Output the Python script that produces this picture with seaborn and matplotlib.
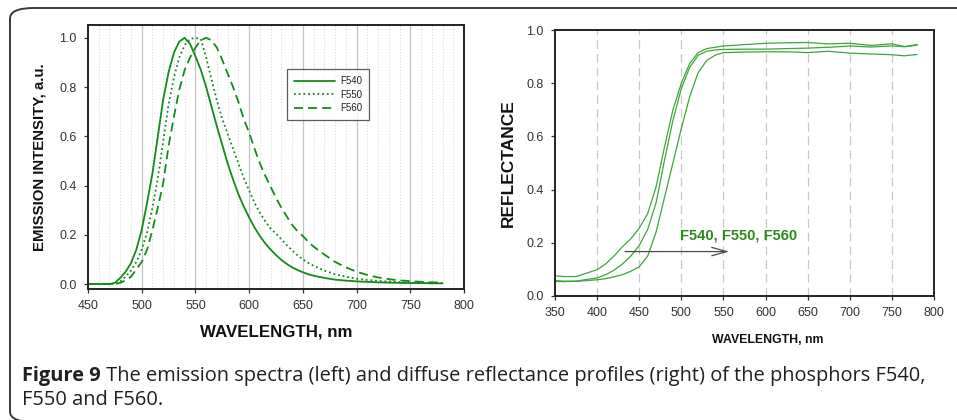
import matplotlib
matplotlib.use("Agg")
import matplotlib.pyplot as plt
from matplotlib.patches import FancyBboxPatch
import seaborn as sns
import pandas as pd

# ---------------- data ----------------
em_wl = [450, 470, 475, 480, 485, 490, 495, 500, 505, 510, 515, 520, 525, 530, 535,
         540, 545, 550, 555, 560, 565, 570, 575, 580, 585, 590, 595, 600, 605, 610,
         615, 620, 625, 630, 635, 640, 645, 650, 655, 660, 670, 680, 690, 700, 710,
         720, 730, 740, 750, 760, 770, 780]
f540 = [0, 0, 0.005, 0.025, 0.05, 0.085, 0.14, 0.22, 0.33, 0.45, 0.60, 0.75, 0.86, 0.94, 0.985,
        1.0, 0.975, 0.925, 0.87, 0.80, 0.72, 0.64, 0.565, 0.49, 0.425, 0.365, 0.315, 0.27, 0.23, 0.195,
        0.165, 0.14, 0.118, 0.098, 0.082, 0.068, 0.057, 0.048, 0.04, 0.034, 0.025, 0.018, 0.014, 0.011, 0.009,
        0.007, 0.006, 0.005, 0.004, 0.004, 0.003, 0.003]
f550 = [0, 0, 0, 0.01, 0.03, 0.055, 0.09, 0.14, 0.21, 0.31, 0.43, 0.58, 0.73, 0.84, 0.92,
        0.97, 0.995, 1.0, 0.995, 0.92, 0.83, 0.745, 0.67, 0.61, 0.55, 0.49, 0.43, 0.38, 0.33, 0.29,
        0.255, 0.225, 0.205, 0.182, 0.158, 0.137, 0.117, 0.1, 0.086, 0.074, 0.055, 0.04, 0.03, 0.022, 0.017,
        0.013, 0.01, 0.008, 0.006, 0.005, 0.004, 0.004]
f560 = [0, 0, 0, 0.005, 0.015, 0.03, 0.06, 0.09, 0.14, 0.22, 0.31, 0.41, 0.56, 0.68, 0.79,
        0.87, 0.92, 0.96, 0.99, 1.0, 0.99, 0.96, 0.91, 0.855, 0.8, 0.74, 0.67, 0.615, 0.55, 0.49,
        0.44, 0.395, 0.35, 0.31, 0.275, 0.24, 0.215, 0.195, 0.172, 0.152, 0.12, 0.09, 0.068, 0.05, 0.037,
        0.027, 0.02, 0.015, 0.012, 0.009, 0.007, 0.006]

rf_wl = [350, 360, 375, 400, 410, 420, 430, 440, 450, 460, 470, 480, 490, 500, 510,
         520, 530, 540, 550, 575, 600, 625, 650, 675, 700, 725, 750, 765, 780]
rf_a = [0.076, 0.073, 0.073, 0.099, 0.12, 0.15, 0.185, 0.215, 0.255, 0.31, 0.41, 0.56, 0.70, 0.80, 0.875,
        0.915, 0.93, 0.935, 0.94, 0.945, 0.95, 0.952, 0.953, 0.948, 0.95, 0.942, 0.948, 0.938, 0.945]
rf_b = [0.058, 0.056, 0.056, 0.068, 0.08, 0.097, 0.12, 0.15, 0.19, 0.25, 0.35, 0.51, 0.66, 0.78, 0.86,
        0.905, 0.92, 0.925, 0.927, 0.928, 0.928, 0.93, 0.932, 0.935, 0.94, 0.936, 0.94, 0.937, 0.943]
rf_c = [0.055, 0.054, 0.055, 0.061, 0.065, 0.072, 0.08, 0.093, 0.11, 0.15, 0.24, 0.37, 0.5, 0.63, 0.75,
        0.84, 0.885, 0.905, 0.915, 0.917, 0.918, 0.918, 0.915, 0.92, 0.913, 0.91, 0.907, 0.903, 0.908]

em_labels = ["F540", "F550", "F560"]
annot_text = "F540, F550, F560"
caption_bold = "Figure 9"
caption_rest = (" The emission spectra (left) and diffuse reflectance profiles (right) of the phosphors F540,")
caption_line2 = "F550 and F560."

# ---------------- style ----------------
sns.set_theme(style="white")
plt.rcParams["font.family"] = ["Liberation Sans", "DejaVu Sans"]

fig = plt.figure(figsize=(9.57, 4.20), dpi=100)

# rounded frame
frame = FancyBboxPatch((10 / 957, 1 - 422 / 420), 1.2, (422 - 8) / 420,
                       boxstyle="round,pad=0,rounding_size=0.025",
                       transform=fig.transFigure, fill=False,
                       edgecolor="#3a3a3a", linewidth=1.4, clip_on=False)
fig.patches.append(frame)

dark_green = "#16891c"
light_green = "#3ea53e"
tick_color = "#333333"

# ---------------- left panel ----------------
ax1 = fig.add_axes([88 / 957, 1 - 289 / 420, (464 - 88) / 957, (289 - 25) / 420])
df_em = pd.DataFrame({"wl": em_wl, "F540": f540, "F550": f550, "F560": f560})
styles = {"F540": "-", "F550": (0, (1, 1.6)), "F560": (0, (5, 2.8))}
for name in em_labels:
    sns.lineplot(data=df_em, x="wl", y=name, ax=ax1, color=dark_green,
                 linewidth=1.3, linestyle=styles[name], label=name, legend=False)
ax1.set_xlim(450, 800)
ax1.set_ylim(-0.02, 1.052)
ax1.set_xticks(range(450, 801, 50))
ax1.set_xticks(range(450, 801, 10), minor=True)
ax1.set_yticks([0, 0.2, 0.4, 0.6, 0.8, 1.0])
ax1.set_yticklabels(["0.0", "0.2", "0.4", "0.6", "0.8", "1.0"])
ax1.grid(False)
for x in range(460, 800, 10):
    if x % 50 == 0:
        ax1.axvline(x, color="#c4c4c4", linewidth=0.9, zorder=0)
    else:
        ax1.axvline(x, color="#d2d2d2", linewidth=0.7, linestyle=(0, (1, 2)), zorder=0)
leg = ax1.legend(loc="upper left", bbox_to_anchor=(0.529, 0.832), fontsize=7,
                 frameon=True, fancybox=False, handlelength=4.2, handletextpad=0.6,
                 borderpad=0.7, labelspacing=0.35, borderaxespad=0)
leg.get_frame().set_edgecolor("#333333")
leg.get_frame().set_linewidth(0.9)
for t in leg.get_texts():
    t.set_color("#222222")
ax1.set_xlabel("WAVELENGTH, nm", fontsize=12.2, fontweight="bold", color="#111111", va="center")
ax1.set_ylabel("EMISSION INTENSITY, a.u.", fontsize=10.8, fontweight="bold", color="#111111", va="center")
ax1.xaxis.set_label_coords(0.5, -0.163)
ax1.yaxis.set_label_coords(-0.128, 0.5)

# ---------------- right panel ----------------
ax2 = fig.add_axes([555 / 957, 1 - 296 / 420, (934 - 555) / 957, (296 - 30) / 420])
df_rf = pd.DataFrame({"wl": rf_wl, "a": rf_a, "b": rf_b, "c": rf_c})
for col in ["a", "b", "c"]:
    sns.lineplot(data=df_rf, x="wl", y=col, ax=ax2, color=light_green, linewidth=0.9, legend=False)
ax2.set_xlim(350, 800)
ax2.set_ylim(0, 1.0)
ax2.set_xticks(range(350, 801, 50))
ax2.set_yticks([0, 0.2, 0.4, 0.6, 0.8, 1.0])
ax2.set_yticklabels(["0.0", "0.2", "0.4", "0.6", "0.8", "1.0"])
ax2.grid(False)
for x in range(400, 800, 50):
    ax2.axvline(x, color="#c8c8c8", linewidth=0.9, linestyle=(0, (7, 4)), zorder=0)
ax2.annotate("", xy=(560, 0.167), xytext=(430, 0.167),
             arrowprops=dict(arrowstyle="->,head_length=0.9,head_width=0.25",
                             color="#4a4a4a", linewidth=0.9))
ax2.text(498, 0.228, annot_text, fontsize=10.5, fontweight="bold", color="#2d8a1e",
         va="center", ha="left")
ax2.set_xlabel("WAVELENGTH, nm", fontsize=8.8, fontweight="bold", color="#111111", va="center")
ax2.set_ylabel("REFLECTANCE", fontsize=12.5, fontweight="bold", color="#111111", va="center")
ax2.xaxis.set_label_coords(0.56, -0.165)
ax2.yaxis.set_label_coords(-0.124, 0.5)

for ax in (ax1, ax2):
    for s in ax.spines.values():
        s.set_color("#222222")
        s.set_linewidth(1.4)
    ax.tick_params(axis="both", which="major", direction="out", length=3, width=0.9,
                   color="#333333", labelsize=9, labelcolor=tick_color, pad=5,
                   bottom=True, left=True)
    ax.tick_params(axis="x", which="minor", bottom=False)

# ---------------- caption ----------------
cap_font = ["Open Sans", "DejaVu Sans"]
cap_size = 14.45
t1 = fig.text(22 / 957, 1 - 381 / 420, caption_bold, fontsize=cap_size, fontweight="bold",
              color="#231f20", family=cap_font, va="baseline", ha="left")
fig.canvas.draw()
bb = t1.get_window_extent()
fig.text(bb.x1 / 957, 1 - 381 / 420, caption_rest, fontsize=cap_size, fontweight="normal",
         color="#231f20", family=cap_font, va="baseline", ha="left")
fig.text(22 / 957, 1 - 405 / 420, caption_line2, fontsize=cap_size, fontweight="normal",
         color="#231f20", family=cap_font, va="baseline", ha="left")

fig.savefig("out.png", dpi=100)
